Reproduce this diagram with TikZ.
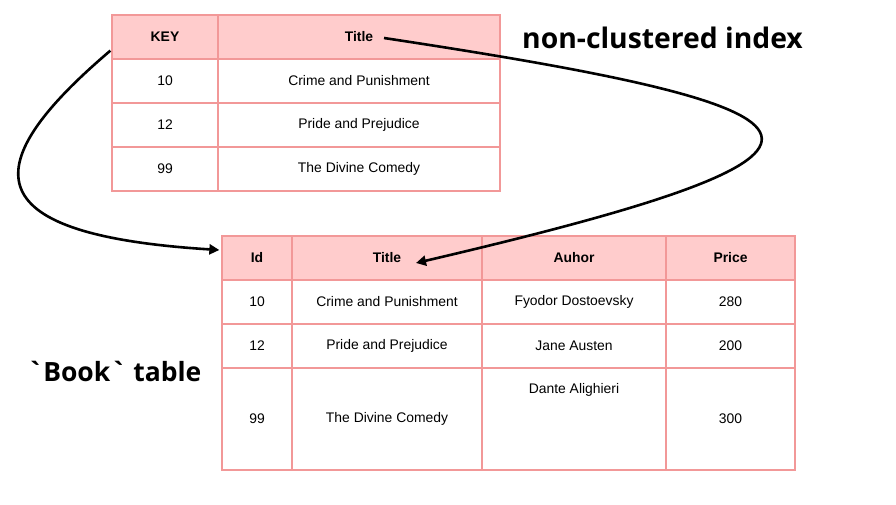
\documentclass[tikz,border=0pt]{standalone}
\usepackage{fontspec}
\setmainfont{Liberation Sans}
\newfontfamily\labelfont{Open Sans}
\usetikzlibrary{arrows.meta,calc}
\definecolor{hdrfill}{RGB}{255,204,204}
\definecolor{cellline}{RGB}{242,152,152}
\tikzset{
  cell/.style={draw=cellline, line width=1.3pt, inner sep=0pt, anchor=center,
    font=\fontsize{13.9}{16}\selectfont},
  hdr/.style={cell, fill=hdrfill, font=\fontsize{13.9}{16}\selectfont\bfseries},
  link/.style={line width=2.6pt, -{Triangle[length=10pt,width=10pt]}},
  bigtext/.style={font=\labelfont\bfseries, inner sep=0pt, anchor=base west}
}
\begin{document}
\begin{tikzpicture}[x=1pt,y=-1pt]
\useasboundingbox (0,0) rectangle (896,504);
% top table (non-clustered index)
\node[hdr, minimum width=106, minimum height=44] (hKey) at (165,37) {KEY};
\node[hdr, minimum width=282, minimum height=44] (hTitle) at (359,37) {Title};
\node[cell, minimum width=106, minimum height=44] (k10) at (165,81) {10};
\node[cell, minimum width=282, minimum height=44] (t10) at (359,81) {Crime and Punishment};
\node[cell, minimum width=106, minimum height=44] (k12) at (165,125) {12};
\node[cell, minimum width=282, minimum height=44] (t12) at (359,125) {Pride and Prejudice};
\node[cell, minimum width=106, minimum height=44] (k99) at (165,169) {99};
\node[cell, minimum width=282, minimum height=44] (t99) at (359,169) {The Divine Comedy};
% bottom table (Book)
\node[hdr, minimum width=70, minimum height=44] (bId) at (257,258) {Id};
\node[hdr, minimum width=190, minimum height=44] (bTitle) at (387,258) {Title};
\node[hdr, minimum width=184, minimum height=44] (bAuthor) at (574,258) {Auhor};
\node[hdr, minimum width=129, minimum height=44] (bPrice) at (730.5,258) {Price};
\node[cell, minimum width=70, minimum height=44] (i10) at (257,302) {10};
\node[cell, minimum width=190, minimum height=44] (bt10) at (387,302) {Crime and Punishment};
\node[cell, minimum width=184, minimum height=44] (a10) at (574,302) {Fyodor Dostoevsky};
\node[cell, minimum width=129, minimum height=44] (p10) at (730.5,302) {280};
\node[cell, minimum width=70, minimum height=44] (i12) at (257,346) {12};
\node[cell, minimum width=190, minimum height=44] (bt12) at (387,346) {Pride and Prejudice};
\node[cell, minimum width=184, minimum height=44] (a12) at (574,346) {Jane Austen};
\node[cell, minimum width=129, minimum height=44] (p12) at (730.5,346) {200};
\node[cell, minimum width=70, minimum height=102] (i99) at (257,419) {99};
\node[cell, minimum width=190, minimum height=102] (bt99) at (387,419) {The Divine Comedy};
\node[cell, minimum width=184, minimum height=102] (a99) at (574,419) {};
\node[inner sep=0pt, font=\fontsize{13.9}{16}\selectfont] (a99t) at (574,390) {Dante Alighieri};
\node[cell, minimum width=129, minimum height=102] (p99) at (730.5,419) {300};
% labels
\node[bigtext, font=\labelfont\bfseries\fontsize{28.3}{32}\selectfont] (lblIndex) at (522,48) {non-clustered index};
\node[bigtext, font=\labelfont\bfseries\fontsize{26.5}{32}\selectfont] (lblBook) at (27,381) {\textasciigrave Book\textasciigrave{} table};
% connectors
\draw[link] ($(hKey.south west)+(-1,-9)$) .. controls (-30,170) and (-20,235) .. ($(bId.west)+(-2,-8)$);
\draw[link] ($(hTitle.center)+(25,1)$) .. controls (860,110) and (900,150) .. ($(bTitle.center)+(29,5)$);
\end{tikzpicture}
\end{document}
